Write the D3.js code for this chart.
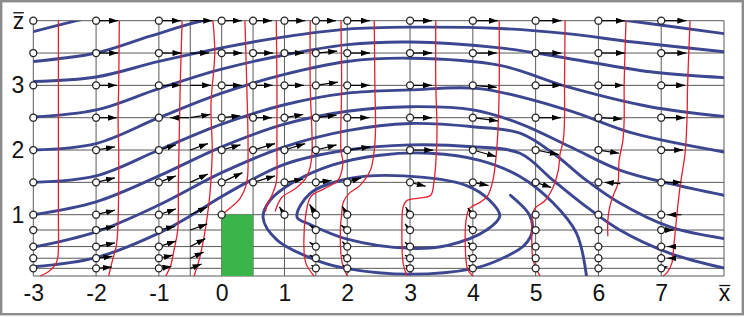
<!DOCTYPE html>
<html><head><meta charset="utf-8">
<script src="https://cdn.jsdelivr.net/npm/d3@7"></script>
<style>html,body{margin:0;padding:0;background:#fff}</style>
</head><body>
<svg id="c" width="746" height="317"></svg>
<script>
// ---------- data ----------
const xTicks = [-3,-2,-1,0,1,2,3,4,5,6,7,8];
const zTicks = [1,2,3,4];
const gridX = [-3,-2,-1,-0.5,0,0.5,1,1.5,2,3,4,5,6,7,8];
const gridZ = [0,0.125,0.29,0.48,0.75,1,1.5,2,2.5,3,3.5,4];
const pointRows = [4,3.5,3,2.5,2,1.5,1,0.75,0.48,0.29,0.125];
const pointCols = [-3,-2,-1,0,0.5,1,1.5,2,3,4,5,6,7];
const pointColMinZ = [0,0,0,1,1.5,1,0,0,0,0,0,0,0];
const buildingX = [0,0.5];
const buildingZ = [0,1];

// streamlines [x,z]
const lineA = [[-3,3.83],[-2.31,4.0],[-1,4.3],[1,4.5]];
const lineB = [[-3,3.37],[-2,3.5],[-1.14,3.76],[-0.34,3.99],[1,4.2],[3,4.3],[5,4.2],[6.48,4.0],[8,3.8]];
const lineC = [[-3,3.06],[-2,3.13],[-1,3.37],[0,3.58],[1,3.75],[2,3.87],[3,3.9],[4.43,3.88],[5.5,3.8],[6.56,3.67],[8,3.52]];
const lineD = [[-3,2.51],[-2,2.62],[-1,2.95],[0,3.25],[1,3.47],[2,3.63],[3,3.67],[4.43,3.58],[5.5,3.42],[6.82,3.21],[8,3.12]];
const lineE = [[-3,2.0],[-2,2.1],[-1,2.5],[0,2.88],[1,3.17],[2,3.37],[3,3.42],[4.43,3.31],[5.5,2.98],[6.82,2.67],[8,2.52]];
const lineF = [[-3,1.5],[-2,1.6],[-1,2.0],[0,2.4],[1,2.7],[2,2.88],[3,2.93],[4.1,2.95],[5.5,2.62],[6.55,2.26],[8,1.97]];
const lineG = [[-3,1.0],[-2,1.2],[-1,1.6],[0,2.05],[1,2.4],[2,2.6],[3,2.67],[4,2.62],[4.75,2.41],[5.55,2.05],[6.34,1.69],[7.14,1.48],[8,1.3]];
const lineH = [[-3,0.47],[-2,0.72],[-1,1.15],[0,1.65],[1,2.05],[2,2.3],[3,2.41],[4,2.36],[4.75,2.26],[5.28,1.95],[5.81,1.53],[6.34,1.18],[7.14,0.8],[8,0.61]];
const lineI = [[-3,0.15],[-2,0.3],[-1,0.7],[-0.5,0.98],[0,1.28],[0.5,1.55],[1,1.78],[2,2.0],[3,2.08],[4,2.05],[4.75,1.95],[5.28,1.53],[5.81,1.12],[6.34,0.75],[7.14,0.37],[8,0.13]];
const lineR = [[4.6,1.3],[4.9,1.0],[4.95,0.75],[4.82,0.5],[4.43,0.27],[4.0,0.12],[3.0,0.03],[2.0,0.12],[1.5,0.26],[0.88,0.59],[0.66,0.95],[0.77,1.22],[1.14,1.5],[1.77,1.77],[2.52,1.92],[3.32,1.95],[4.11,1.84],[4.75,1.59],[5.28,1.18],[5.65,0.7],[5.81,0]];
const loopInner = [[1.2,0.96],[1.41,1.33],[2.04,1.56],[2.9,1.6],[3.9,1.45],[4.27,1.22],[4.43,0.98],[4.22,0.75],[3.6,0.5],[3.0,0.45],[2.0,0.6],[1.41,0.84]];

// velocity profiles: column -> [z, u]
const profileCols = [-3,-2,-1,-0.5,0,0.5,1,1.5,2,3,4,5,6,7];
const profileVals = [
  [[4,0.40],[3,0.40],[2,0.40],[1,0.40],[0.45,0.40],[0.3,0.39],[0.18,0.35],[0.07,0.24],[0,0.11]],
  [[4,0.37],[3,0.36],[2.5,0.35],[2,0.36],[1.5,0.36],[0.75,0.345],[0.48,0.32],[0.27,0.265],[0,0.2]],
  [[4,0.37],[3,0.34],[2,0.32],[1.5,0.31],[0.75,0.3],[0.42,0.24],[0.18,0.19],[0,0.11]],
  [[4,0.36],[3.5,0.39],[2.7,0.33],[2,0.35],[1.55,0.33],[1.2,0.3],[0.7,0.23],[0.3,0.15],[0,0.06]],
  [[4,0.37],[3,0.4],[2,0.42],[1.5,0.4],[1.25,0.29],[1.1,0.13],[1,0]],
  [[4,0.37],[3,0.38],[2,0.38],[1.5,0.37],[1.3,0.3],[1.15,0.22],[1.05,0.2]],
  [[4,0.41],[3,0.41],[2,0.44],[1.74,0.41],[1.55,0.33],[1.4,0.17],[1.27,-0.04],[1.05,-0.15]],
  [[4,0.4],[3,0.41],[2,0.4],[1.8,0.43],[1.53,0.35],[1.4,0.13],[1.28,-0.08],[1.0,-0.16],[0.48,-0.19],[0.21,-0.16],[0,-0.03]],
  [[4,0.43],[3,0.44],[2.3,0.45],[2,0.43],[1.69,0.37],[1.45,0.2],[1.33,0.03],[1.2,-0.06],[1.0,-0.09],[0.75,-0.11],[0.21,-0.08],[0,0]],
  [[4,0.41],[3,0.41],[2.3,0.43],[1.8,0.41],[1.5,0.38],[1.3,0.33],[1.26,0.18],[1.22,-0.05],[1.12,-0.11],[0.75,-0.13],[0.21,-0.11],[0,-0.05]],
  [[4,0.42],[3,0.42],[2.3,0.4],[1.9,0.37],[1.53,0.32],[1.3,0.24],[1.2,0.13],[1.1,-0.05],[0.96,-0.1],[0.48,-0.12],[0.1,-0.08],[0,0]],
  [[4,0.47],[3,0.46],[2.46,0.46],[2.15,0.44],[1.94,0.39],[1.68,0.36],[1.43,0.28],[1.22,0.15],[1.1,-0.01],[1.0,-0.05],[0.75,-0.06],[0.26,-0.04],[0,0.07]],
  [[4,0.44],[3,0.41],[2.46,0.41],[2.15,0.39],[1.84,0.33],[1.48,0.31],[1.33,0.25],[1.12,0.18],[0.91,0.15],[0.65,0.15]],
  [[4,0.46],[3,0.42],[2.46,0.41],[1.95,0.38],[1.43,0.3],[1.0,0.25],[0.48,0.2],[0.21,0.17],[0.05,0.09],[0,0.03]]
];

// velocity vectors [x, z, u, w]
const vectors = [
  [-2,4,.35,0],[-1,4,.35,0],[-0.5,4,.35,0],[0,4,.32,0],[0.5,4,.3,0],[1,4,.33,0],[1.5,4,.32,0],[2,4,.36,0],[3,4,.35,0],[4,4,.4,0],[5,4,.41,0],[6,4,.42,0],[7,4,.4,0],
  [-2,3.5,.35,0],[-1,3.5,.36,0],[-0.5,3.5,.3,0],[0,3.5,.33,0],[0.5,3.5,.32,0],[1,3.5,.31,0],[1.5,3.5,.34,.03],[2,3.5,.36,0],[3,3.5,.35,0],[4,3.5,.38,0],[5,3.5,.41,0],[6,3.5,.42,0],[7,3.5,.4,0],
  [-2,3,.33,0],[-1,3,.35,0],[-0.5,3,.33,0],[0,3,.32,0],[0.5,3,.31,0],[1,3,.31,0],[1.5,3,.35,.05],[2,3,.36,0],[3,3,.35,0],[4,3,.38,-.03],[5,3,.41,0],[6,3,.4,0],[7,3,.38,0],
  [-2,2.5,.33,0],[-0.5,2.5,.32,.05],[0,2.5,.3,.03],[0.5,2.5,.3,0],[1,2.5,.3,.05],[1.5,2.5,.33,.04],[2,2.5,.35,0],[3,2.5,.35,0],[4,2.5,.4,-.05],[5,2.5,.4,0],[6,2.5,.38,-.02],[7,2.5,.38,0],
  [-2,2,.3,.05],[-1,2,.27,.08],[-0.5,2,.28,.1],[0,2,.3,.08],[0.5,2,.35,.1],[1,2,.33,.1],[1.5,2,.33,.08],[2,2,.37,.05],[3,2,.37,0],[4,2,.37,-.1],[5,2,.37,-.07],[6,2,.33,-.05],[7,2,.35,0],
  [-2,1.5,.3,.07],[-1,1.5,.27,.1],[-0.5,1.5,.28,.13],[0,1.5,.33,.15],[0.5,1.5,.35,.1],[1,1.5,.3,.05],[1.5,1.5,.25,.03],[2,1.5,.22,.07],[3,1.5,.25,-.06],[4,1.5,.25,-.05],[5,1.5,.25,-.08],[7,1.5,.33,0],
  [-2,1,.3,.07],[-1,1,.27,.09],[-0.5,1,.27,.12],[1,1,-.08,.12],[1.5,1,-.1,.16],[2,1,-.08,.13],[3,1,-.07,.12],[4,1,-.08,.1],
  [-2,0.75,.3,.06],[-1,0.75,.26,.06],[-0.5,0.75,.27,.1],[1.5,0.75,-.1,.08],[2,0.75,-.1,.08],[3,0.75,-.08,.1],[4,0.75,-.08,.08],[7,0.75,.2,0],
  [-2,0.48,.3,.06],[-1,0.48,.27,.09],[-0.5,0.48,.24,.13],[1.5,0.48,-.1,.07],[2,0.48,-.08,.08],[3,0.48,-.08,.07],[4,0.48,-.08,.07],
  [-2,0.29,.26,.03],[-1,0.29,.22,.05],[-0.5,0.29,.21,.1],[1.5,0.29,-.1,.05],[2,0.29,-.08,.05],[3,0.29,-.08,.05],[4,0.29,-.08,.05],
  [-2,0.125,.25,.02],[-1,0.125,.2,.03],[-0.5,0.125,.18,.07],[1.5,0.125,-.07,.05],[2,0.125,-.07,.05],[3,0.125,-.07,.05],[4,0.125,-.07,.05],[7,0.125,.1,.03]
];
// arrows drawn with the head at the tail end [x, z, u, w]
const reversedVectors = [
  [-0.82,2.5,.3,0],[6.1,1.5,.25,-.02],[7.1,1,.22,0],[7.1,0.48,.13,0],[7.1,0.29,.1,0]
];

// ---------- drawing ----------
const svg = d3.select("#c");
const x = d3.scaleLinear().domain([-3,8]).range([33.3,724]);
const z = d3.scaleLinear().domain([0,1,4]).range([276,214.7,20.7]);

svg.append("rect").attr("x",1.2).attr("y",1.2).attr("width",741.6).attr("height",313)
  .attr("fill","#fff").attr("stroke","#8c8c8c").attr("stroke-width",2.4);

const defs = svg.append("defs");
defs.append("clipPath").attr("id","plot").append("rect")
  .attr("x",x(-3)).attr("y",z(4)).attr("width",x(8)-x(-3)).attr("height",z(0)-z(4));
defs.append("marker").attr("id","ah").attr("viewBox","0 0 9 6").attr("refX",9).attr("refY",3)
  .attr("markerWidth",9).attr("markerHeight",6).attr("markerUnits","userSpaceOnUse").attr("orient","auto-start-reverse")
  .append("path").attr("d","M0,0L9,3L0,6Z").attr("fill","#000");

// grid
const grid = svg.append("g").attr("stroke","#5a5a5a").attr("stroke-width",1);
grid.selectAll("line.h").data(gridZ).join("line").attr("class","h")
  .attr("x1",x(-3)).attr("x2",x(8)).attr("y1",d=>z(d)).attr("y2",d=>z(d));
grid.selectAll("line.v").data(gridX).join("line").attr("class","v")
  .attr("x1",d=>x(d)).attr("x2",d=>x(d)).attr("y1",z(0)).attr("y2",z(4));

// streamlines
const line = d3.line().x(d=>x(d[0])).y(d=>z(d[1])).curve(d3.curveCatmullRom.alpha(0.5));
const closed = d3.line().x(d=>x(d[0])).y(d=>z(d[1])).curve(d3.curveCatmullRomClosed.alpha(0.5));
const sg = svg.append("g").attr("clip-path","url(#plot)").attr("fill","none")
  .attr("stroke","#3d4791").attr("stroke-width",2.9).attr("stroke-linecap","round");
[lineA,lineB,lineC,lineD,lineE,lineF,lineG,lineH,lineI,lineR].forEach(p=>sg.append("path").attr("d",line(p)));
sg.append("path").attr("d",closed(loopInner));

// velocity profiles
const pg = svg.append("g").attr("fill","none").attr("stroke","#e3202f").attr("stroke-width",1.3);
profileCols.forEach((c,i)=>{
  pg.append("path").attr("d", d3.line().x(d=>x(c+d[1])).y(d=>z(d[0])).curve(d3.curveCatmullRom.alpha(0.5))(profileVals[i]));
});

// building
svg.append("rect").attr("x",x(buildingX[0])).attr("y",z(buildingZ[1]))
  .attr("width",x(buildingX[1])-x(buildingX[0])).attr("height",z(buildingZ[0])-z(buildingZ[1]))
  .attr("fill","#3bb54a");

// arrows
const ag = svg.append("g").attr("stroke","#000").attr("stroke-width",1.2);
ag.selectAll("line.f").data(vectors).join("line").attr("class","f")
  .attr("x1",d=>x(d[0])).attr("y1",d=>z(d[1])).attr("x2",d=>x(d[0]+d[2])).attr("y2",d=>z(d[1]+d[3]))
  .attr("marker-end","url(#ah)");
ag.selectAll("line.r").data(reversedVectors).join("line").attr("class","r")
  .attr("x1",d=>x(d[0])).attr("y1",d=>z(d[1])).attr("x2",d=>x(d[0]+d[2])).attr("y2",d=>z(d[1]+d[3]))
  .attr("marker-start","url(#ah)");

// points
const pts = [];
pointCols.forEach((c,i)=>pointRows.forEach(r=>{ if(r>=pointColMinZ[i]) pts.push([c,r]); }));
svg.append("g").selectAll("circle").data(pts).join("circle")
  .attr("cx",d=>x(d[0])).attr("cy",d=>z(d[1])).attr("r",3.5)
  .attr("fill","#fff").attr("stroke","#222").attr("stroke-width",1.3);

// axes
const font = "'Liberation Sans', Arial, sans-serif";
const xa = svg.append("g").attr("transform",`translate(0,${z(0)})`)
  .call(d3.axisBottom(x).tickValues(xTicks).tickSize(0).tickPadding(9).tickFormat(d=>d===8?"x":d));
xa.select(".domain").remove();
xa.selectAll("text").attr("font-family",font).attr("font-size",23).attr("fill","#111");
const za = svg.append("g").attr("transform",`translate(${x(-3)},0)`)
  .call(d3.axisLeft(z).tickValues(zTicks).tickSize(0).tickPadding(9).tickFormat(d=>d===4?"z":d));
za.select(".domain").remove();
za.selectAll("text").attr("font-family",font).attr("font-size",23).attr("fill","#111");

// overbars on axis letters
[xa,za].forEach(a=>a.selectAll(".tick text").each(function(d){
  if(this.textContent==="x"||this.textContent==="z"){
    const b=this.getBBox();
    d3.select(this.parentNode).append("line").attr("x1",b.x+0.5).attr("x2",b.x+b.width-0.5)
      .attr("y1",b.y+b.height*0.2).attr("y2",b.y+b.height*0.2).attr("stroke","#111").attr("stroke-width",1.3);
  }
}));
</script>
</body></html>
